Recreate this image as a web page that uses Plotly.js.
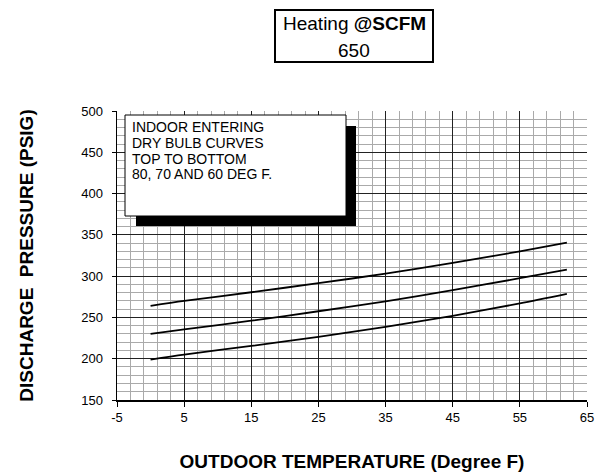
<!DOCTYPE html>
<html>
<head>
<meta charset="utf-8">
<script src="https://cdn.plot.ly/plotly-3.0.1.min.js"></script>
<style>html,body{margin:0;padding:0;background:#fff;}#chart{width:598px;height:476px;}</style>
</head>
<body>
<div id="chart"></div>
<script>
// Outdoor temperature (deg F)
const outdoorTemp = [0, 5, 15, 25, 35, 45, 55, 62];
// Discharge pressure (PSIG) for indoor entering dry bulb 80, 70, 60 deg F
const pressure80 = [264, 270, 280.5, 291.5, 303, 316, 330, 340.5];
const pressure70 = [230, 235.5, 246, 257.5, 269.5, 283, 297.5, 308];
const pressure60 = [199, 205, 215.5, 226.5, 238.5, 252, 267, 278.5];
const seriesNames = ['80 DEG F', '70 DEG F', '60 DEG F'];
const xTicks = [-5, 5, 15, 25, 35, 45, 55, 65];
const yTicks = [150, 200, 250, 300, 350, 400, 450, 500];
const noteLines = ['INDOOR ENTERING', 'DRY BULB CURVES', 'TOP TO BOTTOM', '80, 70 AND 60 DEG F.'];

const traces = [pressure80, pressure70, pressure60].map((ys, i) => ({
  x: outdoorTemp, y: ys, type: 'scatter', mode: 'lines', name: seriesNames[i],
  line: {color: '#000', width: 1.8, shape: 'spline', smoothing: 0.8}, hoverinfo: 'x+y'
}));

const W = 598, H = 476, L = 117, R = 11, T = 111, B = 76;
const pw = W - L - R, ph = H - T - B;
const px = v => (v - L) / pw;
const py = v => (H - B - v) / ph;
const FONT = 'Liberation Sans, Arial, sans-serif';

const shapes = [
  // note shadow
  {type: 'rect', xref: 'paper', yref: 'paper', x0: px(136), x1: px(356), y0: py(226), y1: py(126),
   fillcolor: '#000', line: {width: 0}, layer: 'above'},
  // note box
  {type: 'rect', xref: 'paper', yref: 'paper', x0: px(125), x1: px(346), y0: py(216), y1: py(115),
   fillcolor: '#fff', line: {color: '#000', width: 1}, layer: 'above'},
  // title box
  {type: 'rect', xref: 'paper', yref: 'paper', x0: px(275), x1: px(433), y0: py(62), y1: py(10),
   fillcolor: 'rgba(0,0,0,0)', line: {color: '#000', width: 2}, layer: 'above'}
];

const annotations = [
  {xref: 'paper', yref: 'paper', x: px(354), y: py(23), xanchor: 'center', yanchor: 'middle', showarrow: false,
   text: 'Heating <b>@SCFM</b>', font: {family: FONT, size: 19, color: '#000'}},
  {xref: 'paper', yref: 'paper', x: px(354), y: py(50), xanchor: 'center', yanchor: 'middle', showarrow: false,
   text: '650', font: {family: FONT, size: 19, color: '#000'}},
  {xref: 'paper', yref: 'paper', x: px(0), y: py(463), xanchor: 'center', yanchor: 'middle', showarrow: false,
   text: '', font: {family: FONT, size: 1}}
];
noteLines.forEach((t, i) => annotations.push({
  xref: 'paper', yref: 'paper', x: px(130), y: py(127 + i * 15.8), xanchor: 'left', yanchor: 'middle',
  showarrow: false, text: t, font: {family: FONT, size: 14, color: '#000'}
}));
annotations.splice(2, 1);

const layout = {
  width: W, height: H,
  margin: {l: L, r: R, t: T, b: B, pad: 0},
  paper_bgcolor: '#fff', plot_bgcolor: '#fff',
  showlegend: false,
  font: {family: FONT, color: '#000'},
  xaxis: {
    range: [-5, 65], tickmode: 'array', tickvals: xTicks, ticktext: xTicks.map(String),
    showgrid: true, gridcolor: '#222', gridwidth: 1, zeroline: false,
    showline: true, linecolor: '#000', linewidth: 1.5,
    ticks: 'outside', ticklen: 5, tickcolor: '#000',
    tickfont: {size: 13, family: FONT},
    minor: {dtick: 2, tick0: -5, showgrid: true, gridcolor: '#aaaaaa', gridwidth: 1, ticks: ''},
    title: {text: '<b>OUTDOOR TEMPERATURE (Degree F)</b>', standoff: 30,
            font: {size: 19, family: FONT}}
  },
  yaxis: {
    range: [150, 500], tickmode: 'array', tickvals: yTicks, ticktext: yTicks.map(String),
    showgrid: true, gridcolor: '#222', gridwidth: 1, zeroline: false,
    showline: true, linecolor: '#000', linewidth: 1.5,
    ticks: 'outside', ticklen: 4, tickcolor: '#000', ticklabelstandoff: 6,
    tickfont: {size: 13, family: FONT},
    minor: {dtick: 10, tick0: 150, showgrid: true, gridcolor: '#aaaaaa', gridwidth: 1, ticks: ''},
    title: {text: '<b>DISCHARGE  PRESSURE (PSIG)</b>', standoff: 42,
            font: {size: 19, family: FONT}}
  },
  shapes: shapes,
  annotations: annotations
};

Plotly.newPlot('chart', traces, layout, {displayModeBar: false, staticPlot: true});
</script>
</body>
</html>
